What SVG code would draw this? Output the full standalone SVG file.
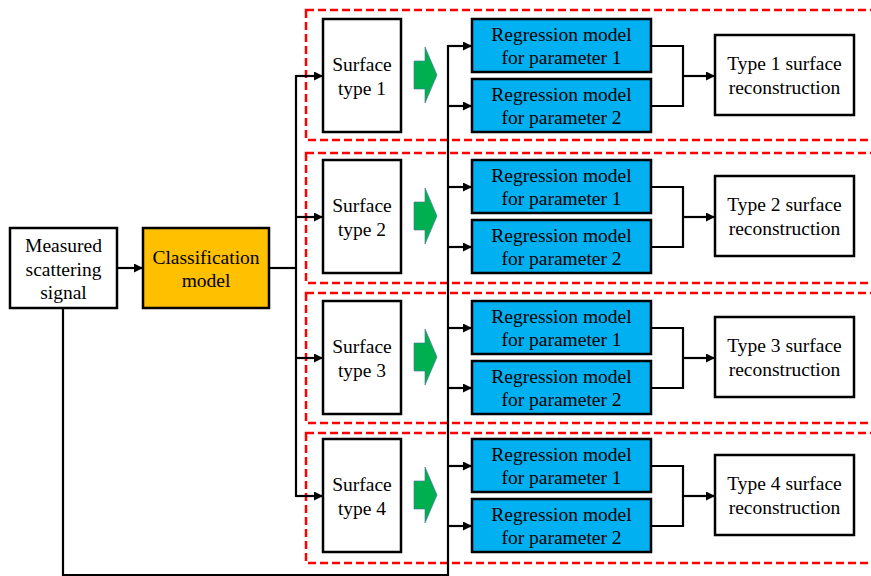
<svg xmlns="http://www.w3.org/2000/svg" width="871" height="576" viewBox="0 0 871 576">
<defs>
<style>
text{font-family:"Liberation Serif","Times New Roman",serif;font-size:19.5px;fill:#000;text-anchor:middle}
.box{stroke:#000;stroke-width:2.5}
.wh{fill:#fff}
.reg{fill:#00B0F0}
.cls{fill:#FFC000}
.panel{fill:none;stroke:#FF0000;stroke-width:2.5;stroke-dasharray:8 4}
.ln{fill:none;stroke:#000;stroke-width:2.2}
.ga{fill:#00B050;stroke:#41719C;stroke-width:0.6}
</style>
<marker id="ah" viewBox="0 0 10 10" refX="10" refY="5" markerWidth="9" markerHeight="9" markerUnits="userSpaceOnUse" orient="auto">
<path d="M0,0 L10,5 L0,10 z" fill="#000"/>
</marker>
<path id="garrow" d="M414,61 L425,61 L425,47 L437,75 L425,103 L425,89 L414,89 z"/>
</defs>
<rect width="871" height="576" fill="#fff"/>

<g id="panels">
<rect class="panel" x="306" y="10" width="600" height="130"/>
<rect class="panel" x="306" y="153" width="600" height="130"/>
<rect class="panel" x="306" y="293" width="600" height="130"/>
<rect class="panel" x="306" y="433" width="600" height="130"/>
</g>

<g id="measured">
<rect class="box wh" x="10" y="228" width="107" height="80"/>
<text x="63.5" y="252">Measured</text>
<text x="63.5" y="275.5">scattering</text>
<text x="63.5" y="299">signal</text>
</g>
<g id="classification">
<rect class="box cls" x="143" y="228" width="126" height="80"/>
<text x="206" y="264">Classification</text>
<text x="206" y="287">model</text>
</g>

<g id="panel1">
<g id="surface1"><rect class="box wh" x="323" y="19" width="78" height="113"/><text x="362" y="71">Surface</text><text x="362" y="95">type 1</text></g>
<use href="#garrow" class="ga"/>
<g id="reg1a"><rect class="box reg" x="472" y="19" width="179" height="53"/><text x="561.5" y="41">Regression model</text><text x="561.5" y="64">for parameter 1</text></g>
<g id="reg1b"><rect class="box reg" x="472" y="79" width="179" height="53"/><text x="561.5" y="101">Regression model</text><text x="561.5" y="124">for parameter 2</text></g>
<g id="recon1"><rect class="box wh" x="715" y="35" width="139" height="80"/><text x="784.5" y="70">Type 1 surface</text><text x="784.5" y="93.5">reconstruction</text></g>
</g>
<g id="panel2" transform="translate(0,141)">
<g id="surface2"><rect class="box wh" x="323" y="19" width="78" height="113"/><text x="362" y="71">Surface</text><text x="362" y="95">type 2</text></g>
<use href="#garrow" class="ga"/>
<g id="reg2a"><rect class="box reg" x="472" y="19" width="179" height="53"/><text x="561.5" y="41">Regression model</text><text x="561.5" y="64">for parameter 1</text></g>
<g id="reg2b"><rect class="box reg" x="472" y="79" width="179" height="53"/><text x="561.5" y="101">Regression model</text><text x="561.5" y="124">for parameter 2</text></g>
<g id="recon2"><rect class="box wh" x="715" y="35" width="139" height="80"/><text x="784.5" y="70">Type 2 surface</text><text x="784.5" y="93.5">reconstruction</text></g>
</g>
<g id="panel3" transform="translate(0,282)">
<g id="surface3"><rect class="box wh" x="323" y="19" width="78" height="113"/><text x="362" y="71">Surface</text><text x="362" y="95">type 3</text></g>
<use href="#garrow" class="ga"/>
<g id="reg3a"><rect class="box reg" x="472" y="19" width="179" height="53"/><text x="561.5" y="41">Regression model</text><text x="561.5" y="64">for parameter 1</text></g>
<g id="reg3b"><rect class="box reg" x="472" y="79" width="179" height="53"/><text x="561.5" y="101">Regression model</text><text x="561.5" y="124">for parameter 2</text></g>
<g id="recon3"><rect class="box wh" x="715" y="35" width="139" height="80"/><text x="784.5" y="70">Type 3 surface</text><text x="784.5" y="93.5">reconstruction</text></g>
</g>
<g id="panel4" transform="translate(0,420)">
<g id="surface4"><rect class="box wh" x="323" y="19" width="78" height="113"/><text x="362" y="71">Surface</text><text x="362" y="95">type 4</text></g>
<use href="#garrow" class="ga"/>
<g id="reg4a"><rect class="box reg" x="472" y="19" width="179" height="53"/><text x="561.5" y="41">Regression model</text><text x="561.5" y="64">for parameter 1</text></g>
<g id="reg4b"><rect class="box reg" x="472" y="79" width="179" height="53"/><text x="561.5" y="101">Regression model</text><text x="561.5" y="124">for parameter 2</text></g>
<g id="recon4"><rect class="box wh" x="715" y="35" width="139" height="80"/><text x="784.5" y="70">Type 4 surface</text><text x="784.5" y="93.5">reconstruction</text></g>
</g>

<g id="connectors">
<line class="ln" x1="117" y1="268" x2="143" y2="268" marker-end="url(#ah)"/>
<polyline class="ln" points="269,268 296,268"/>
<line class="ln" x1="296" y1="75" x2="296" y2="497"/>
<line class="ln" x1="296" y1="76" x2="323" y2="76" marker-end="url(#ah)"/>
<line class="ln" x1="296" y1="217" x2="323" y2="217" marker-end="url(#ah)"/>
<line class="ln" x1="296" y1="358" x2="323" y2="358" marker-end="url(#ah)"/>
<line class="ln" x1="296" y1="496" x2="323" y2="496" marker-end="url(#ah)"/>
<polyline class="ln" points="63,308 63,575 448,575 448,45"/>
<line class="ln" x1="448" y1="46" x2="472" y2="46" marker-end="url(#ah)"/>
<line class="ln" x1="448" y1="106" x2="472" y2="106" marker-end="url(#ah)"/>
<line class="ln" x1="448" y1="187" x2="472" y2="187" marker-end="url(#ah)"/>
<line class="ln" x1="448" y1="247" x2="472" y2="247" marker-end="url(#ah)"/>
<line class="ln" x1="448" y1="328" x2="472" y2="328" marker-end="url(#ah)"/>
<line class="ln" x1="448" y1="388" x2="472" y2="388" marker-end="url(#ah)"/>
<line class="ln" x1="448" y1="466" x2="472" y2="466" marker-end="url(#ah)"/>
<line class="ln" x1="448" y1="526" x2="472" y2="526" marker-end="url(#ah)"/>
<polyline class="ln" points="651,46 683,46 683,106 651,106"/>
<line class="ln" x1="683" y1="76" x2="715" y2="76" marker-end="url(#ah)"/>
<polyline class="ln" points="651,187 683,187 683,247 651,247"/>
<line class="ln" x1="683" y1="217" x2="715" y2="217" marker-end="url(#ah)"/>
<polyline class="ln" points="651,328 683,328 683,388 651,388"/>
<line class="ln" x1="683" y1="358" x2="715" y2="358" marker-end="url(#ah)"/>
<polyline class="ln" points="651,466 683,466 683,526 651,526"/>
<line class="ln" x1="683" y1="496" x2="715" y2="496" marker-end="url(#ah)"/>
</g>
</svg>
